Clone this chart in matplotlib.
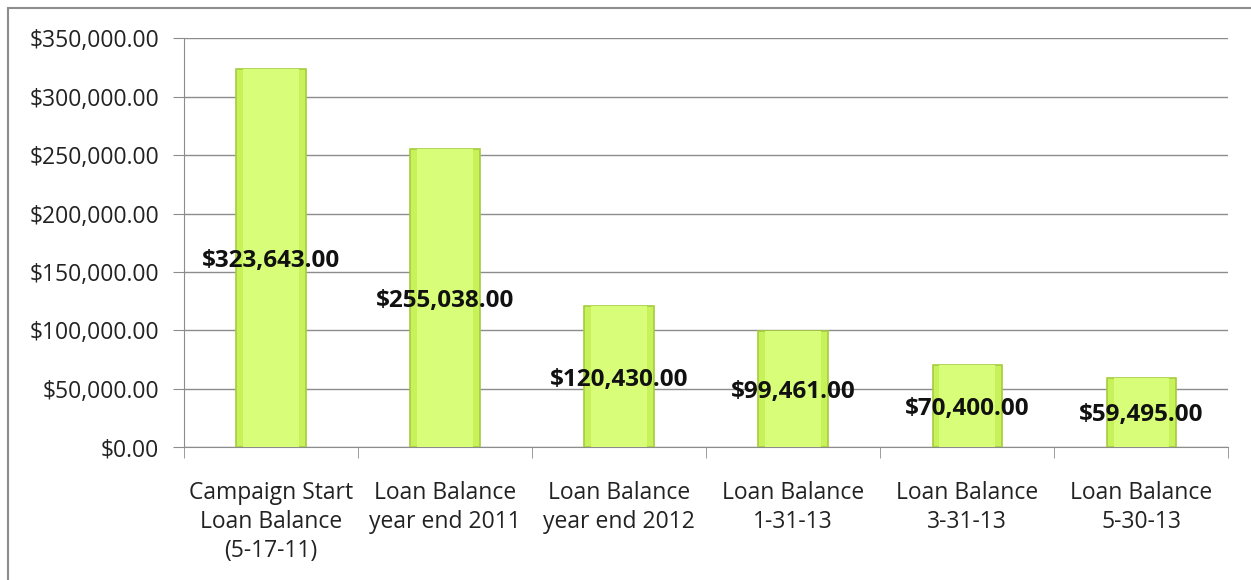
import numpy as np
import matplotlib.pyplot as plt
from matplotlib.ticker import FuncFormatter, FixedLocator
from matplotlib.patches import Rectangle

categories = ['Campaign Start\nLoan Balance\n(5-17-11)', 'Loan Balance\nyear end 2011',
              'Loan Balance\nyear end 2012', 'Loan Balance\n1-31-13',
              'Loan Balance\n3-31-13', 'Loan Balance\n5-30-13']
balances = [323643.00, 255038.00, 120430.00, 99461.00, 70400.00, 59495.00]

plt.rcParams['font.family'] = ['Open Sans', 'DejaVu Sans']

fig = plt.figure(figsize=(12.51, 5.8), dpi=100)
ax = fig.add_axes([0.147, 0.229, 0.835, 0.705])

x = np.arange(len(categories))
bars = ax.bar(x, balances, width=0.4, color='#c8f25a', edgecolor='#a6cc3e', linewidth=1.2, zorder=3)
# lighter highlight inside bars
ax.bar(x, balances, width=0.32, color='#d8fd78', linewidth=0, zorder=3)

for xi, v in zip(x, balances):
    ax.text(xi, v / 2, f'${v:,.2f}', ha='center', va='center_baseline', fontsize=17.5,
            fontweight='bold', color='#111111', zorder=5)

ax.set_xlim(-0.5, len(categories) - 0.5)
ax.set_ylim(0, 350000)
ax.set_yticks(np.arange(0, 350001, 50000))
ax.yaxis.set_major_formatter(FuncFormatter(lambda v, p: f'${v:,.2f}'))
ax.yaxis.grid(True, color='#8c8c8c', linewidth=1, zorder=0)

ax.set_xticks(x)
ax.set_xticklabels(categories, fontsize=16.5, color='#222222', linespacing=1.3)
ax.xaxis.set_minor_locator(FixedLocator(np.arange(-0.5, len(categories), 1)))
ax.tick_params(axis='x', which='major', length=0, pad=24)
ax.tick_params(axis='x', which='minor', length=8, color='#8c8c8c', direction='out')
ax.tick_params(axis='y', length=8, color='#8c8c8c', labelsize=16.5, labelcolor='#222222', pad=10)

for s in ['top', 'right']:
    ax.spines[s].set_visible(False)
ax.spines['left'].set_color('#8c8c8c')
ax.spines['bottom'].set_color('#8c8c8c')

fig.patches.append(Rectangle((8 / 1251, -0.05), 1.2, 1 - 8 / 580 + 0.05, transform=fig.transFigure,
                             fill=False, edgecolor='#8c8c8c', linewidth=1.5))

fig.savefig('out.png', dpi=100)
